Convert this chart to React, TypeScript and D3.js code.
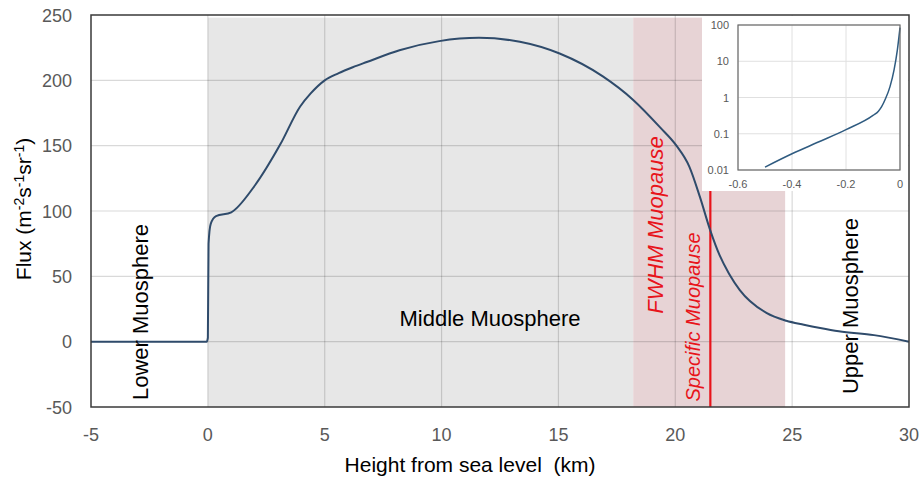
import React from 'react';
import * as d3 from 'd3';

// constants
const width = 924;
const height = 481;
const margin = { top: 15, right: 15, bottom: 74, left: 91 };

// main curve: flux vs height
const heightKm = [-5, -0.05, 0, 0.03, 0.12, 0.35, 1.0, 1.95, 3.1, 3.95, 4.4, 5.0, 5.6, 6.2, 6.8, 8.2, 9.9, 11.6, 13.35, 15.05, 16.9, 18.2, 19.35, 20.05, 20.6, 21.05, 21.5, 21.9, 22.3, 22.76, 23.9, 24.75, 25.5, 26.2, 27.0, 28.5, 30];
const flux = [0, 0, 3, 75, 90, 96, 99, 118, 151, 180, 190, 200, 205.5, 210, 214, 223, 230, 232.5, 229.5, 220.5, 203, 185, 164, 150, 134, 111, 85, 66, 52, 39.5, 22, 16, 13, 10.5, 8, 5, 0];

// inset curve (log scale)
const insetX = [-0.5, -0.4, -0.3, -0.2, -0.1, -0.08, -0.068, -0.053, -0.037, -0.022, -0.01, 0];
const insetY = [0.012, 0.028, 0.06, 0.13, 0.32, 0.42, 0.56, 0.95, 2.0, 5.8, 20, 85];

// ticks
const xTicks = [-5, 0, 5, 10, 15, 20, 25, 30];
const yTicks = [-50, 0, 50, 100, 150, 200, 250];
const insetXTicks = [-0.6, -0.4, -0.2, 0];
const insetYTicks = [0.01, 0.1, 1, 10, 100];

// shaded zones
const middleZone = [0, 18.2];
const fwhmZone = [18.2, 24.7];
const specificMuopause = 21.5;

const font = '"Liberation Sans", Arial, sans-serif';

const App = () => {
  const x = d3.scaleLinear().domain([-5, 30]).range([margin.left, width - margin.right]);
  const y = d3.scaleLinear().domain([-50, 250]).range([height - margin.bottom, margin.top]);

  const line = d3.line<number>()
    .x((d, i) => x(heightKm[i]))
    .y((d) => y(d))
    .curve(d3.curveMonotoneX);

  // inset
  const box = { x0: 702, x1: 909, y0: 15, y1: 191 };
  const ix = d3.scaleLinear().domain([-0.6, 0]).range([738, 900]);
  const iy = d3.scaleLog().domain([0.01, 100]).range([170, 25]);
  const insetLine = d3.line<number>()
    .x((d, i) => ix(insetX[i]))
    .y((d) => iy(d))
    .curve(d3.curveMonotoneX);

  const zoneTop = y(248);
  const zoneBottom = y(-50);
  const grid = 'rgba(0,0,0,0.15)';
  const red = '#e8141b';

  return (
    <svg width={width} height={height} style={{ position: 'absolute', left: 0, top: 0, background: '#fff' }}>
      {/* zones */}
      <rect x={x(middleZone[0])} y={zoneTop} width={x(middleZone[1]) - x(middleZone[0])} height={zoneBottom - zoneTop} fill="#e7e7e7" />
      <rect x={x(fwhmZone[0])} y={zoneTop} width={x(fwhmZone[1]) - x(fwhmZone[0])} height={zoneBottom - zoneTop} fill="#e7d3d5" />

      {/* grid */}
      {yTicks.slice(1, -1).map((t) => (
        <line key={'gy' + t} x1={x(-5)} x2={x(30)} y1={y(t)} y2={y(t)} stroke={grid} strokeWidth={1.2} />
      ))}
      {xTicks.slice(1, -1).map((t) => (
        <line key={'gx' + t} x1={x(t)} x2={x(t)} y1={y(250)} y2={y(-50)} stroke={grid} strokeWidth={1.2} />
      ))}

      {/* specific muopause line */}
      <line x1={x(specificMuopause)} x2={x(specificMuopause)} y1={zoneTop} y2={zoneBottom} stroke={red} strokeWidth={2.2} />

      {/* curve */}
      <path d={line(flux) || ''} fill="none" stroke="#2f4b6b" strokeWidth={2} />

      {/* frame */}
      <rect x={x(-5)} y={y(250)} width={x(30) - x(-5)} height={y(-50) - y(250)} fill="none" stroke="#3a3a3a" strokeWidth={1.5} />

      {/* axes labels */}
      {yTicks.map((t) => (
        <text key={'yt' + t} x={72} y={y(t) + 6.5} textAnchor="end" fontFamily={font} fontSize={18} fill="#595959">{t}</text>
      ))}
      {xTicks.map((t) => (
        <text key={'xt' + t} x={x(t)} y={441} textAnchor="middle" fontFamily={font} fontSize={18} fill="#595959">{t}</text>
      ))}
      <text x={470} y={472} textAnchor="middle" fontFamily={font} fontSize={21} fill="#000">{'Height from sea level\u00a0 (km)'}</text>
      <text transform={`translate(31,${209}) rotate(-90)`} textAnchor="middle" fontFamily={font} fontSize={21} fill="#000">
        Flux (m<tspan dy={-7} fontSize={14}>-2</tspan><tspan dy={7}>s</tspan><tspan dy={-7} fontSize={14}>-1</tspan><tspan dy={7}>sr</tspan><tspan dy={-7} fontSize={14}>-1</tspan><tspan dy={7}>)</tspan>
      </text>

      {/* annotations */}
      <text transform={`translate(148,${312}) rotate(-90)`} textAnchor="middle" fontFamily={font} fontSize={22} fill="#000">Lower Muosphere</text>
      <text x={490} y={326} textAnchor="middle" fontFamily={font} fontSize={22} fill="#000">Middle Muosphere</text>
      <text transform={`translate(663,${225}) rotate(-90)`} textAnchor="middle" fontFamily={font} fontSize={22} fontStyle="italic" fill={red}>FWHM Muopause</text>
      <text transform={`translate(700,${317}) rotate(-90)`} textAnchor="middle" fontFamily={font} fontSize={20} fontStyle="italic" fill={red}>Specific Muopause</text>
      <text transform={`translate(858,${306}) rotate(-90)`} textAnchor="middle" fontFamily={font} fontSize={22} fill="#000">Upper Muosphere</text>

      {/* inset */}
      <rect x={box.x0} y={box.y0 + 1} width={box.x1 - box.x0 - 1} height={box.y1 - box.y0 - 1} fill="#fff" />
      {insetYTicks.map((t) => (
        <line key={'iy' + t} x1={ix(-0.6)} x2={ix(0)} y1={iy(t)} y2={iy(t)} stroke="#e0e0e0" />
      ))}
      {insetXTicks.map((t) => (
        <line key={'ix' + t} x1={ix(t)} x2={ix(t)} y1={iy(100)} y2={iy(0.01)} stroke="#e0e0e0" />
      ))}
      <path d={insetLine(insetY) || ''} fill="none" stroke="#2f5b80" strokeWidth={1.5} />
      <rect x={ix(-0.6)} y={iy(100)} width={ix(0) - ix(-0.6)} height={iy(0.01) - iy(100)} fill="none" stroke="#6a6a6a" strokeWidth={1.2} />
      {insetYTicks.map((t) => (
        <text key={'iyt' + t} x={729} y={iy(t) + 4} textAnchor="end" fontFamily={font} fontSize={11} fill="#595959">{t}</text>
      ))}
      {insetXTicks.map((t) => (
        <text key={'ixt' + t} x={ix(t)} y={188} textAnchor="middle" fontFamily={font} fontSize={11} fill="#595959">{t}</text>
      ))}
    </svg>
  );
};

export default App;
